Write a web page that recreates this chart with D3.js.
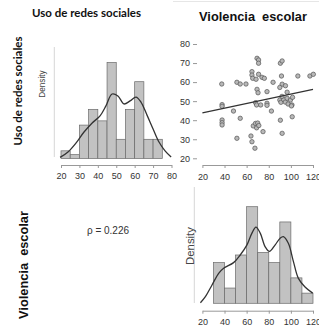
<!DOCTYPE html>
<html>
<head>
<meta charset="utf-8">
<script src="https://cdn.jsdelivr.net/npm/d3@7"></script>
<style>
    body { margin: 0; background: #fff; }
    text { font-family: 'Liberation Sans', Arial, sans-serif; }
</style>
</head>
<body>
<svg id="chart" width="319" height="329"></svg>
<script>
'use strict';

// Uso de redes sociales: histogram (bin start, bin width 5) and density curve
var socialBinStart = [20, 25, 30, 35, 40, 45, 50, 55, 60, 65, 70];
var socialCounts = [2, 1, 8.7, 12.8, 9.8, 25, 5, 12.8, 20, 5, 5];
var socialKdeX = [19.5, 23.8, 28.1, 32.5, 36.8, 41.2, 44.4, 47.7, 50.9, 54.2, 57.5, 60.7, 63.4, 66.7, 70.0, 73.2, 76.5, 79.8];
var socialKdeY = [0.3, 1.7, 4.0, 6.9, 9.2, 11.1, 13.7, 16.8, 16.3, 14.2, 15.0, 16.0, 14.7, 11.3, 7.7, 4.3, 2.0, 0.4];

// Violencia escolar: histogram (bin start, bin width 10) and density curve
var violBinStart = [30, 40, 50, 60, 70, 80, 90, 100, 110];
var violCounts = [8, 3, 9.5, 19, 10, 8, 16, 5, 2];
var violKdeX = [18.2, 22.7, 28.7, 34.7, 39.2, 48.2, 54.2, 60.3, 64.8, 68.4, 72.3, 76.8, 80.6, 85.8, 90.3, 93.2, 97.7, 102.3, 106.8, 112.8, 119.7];
var violKdeY = [0.1, 1.3, 3.6, 5.9, 6.9, 8.0, 9.5, 11.5, 13.8, 15.0, 13.8, 11.1, 10.2, 11.5, 12.8, 13.1, 11.8, 8.2, 4.9, 3.2, 2.0];

// scatter: violencia (x) vs uso de redes (y)
var violencia = [69.4, 70.8, 70.8, 90.5, 92.1, 64.8, 64.8, 65.5, 70.8, 73.9, 76, 68.5,
    37.5, 51.2, 54.2, 59.4, 83.9, 91.5, 106.3, 117.2, 120.3,
    92.1, 95.1, 90, 96.6, 69.4, 70.3, 78.4,
    37.8, 37.8, 48.1, 68.1, 69, 72.7, 78.4, 78.4, 82.4,
    90, 91, 93.5, 95, 96.6, 97.5, 99.6, 101, 101.5, 100.5, 92,
    101.2, 37.8, 37.8, 37.8, 54.2,
    66, 68, 70, 69, 71,
    90.5, 74.8, 92.1, 51.2, 63.9, 64.8, 67.5];
var redes = [72.5, 71.6, 69.9, 69.9, 71.1, 65.5, 63.7, 62, 64.1, 62.5, 62, 61.5,
    59, 59.9, 59, 59, 59.9, 63.2, 63.2, 63.2, 64.1,
    58.9, 58.1, 57.2, 54.7, 56.2, 54.4, 55,
    48.2, 47.3, 44.8, 49.2, 48, 48, 48.9, 47.8, 44.8,
    50.6, 49.4, 50.8, 49.5, 51.5, 48.5, 50.6, 48, 52, 47.5, 52.5,
    41.8, 40.1, 38.7, 37.5, 41,
    37, 38.3, 38.5, 36, 37.2,
    40, 34, 33.1, 30.5, 31.7, 28.7, 25.3];
var fitX = [20, 120];
var fitY = [43.9, 56.2];

var socialTicks = [20, 30, 40, 50, 60, 70, 80];
var violTicks = [20, 40, 60, 80, 100, 120];
var redesTicks = [20, 30, 40, 50, 60, 70, 80];
var rhoLabel = '\u03c1 = 0.226';

var barFill = '#c2c2c2';
var barStroke = '#6a6a6a';
var lineColor = '#333333';
var axisColor = '#999999';
var labelColor = '#333333';

var svg = d3.select('#chart');

svg.append('rect')
    .attr('width', 319)
    .attr('height', 329)
    .attr('fill', '#ffffff');

// faint frame line at the top right
svg.append('line')
    .attr('x1', 173).attr('x2', 319)
    .attr('y1', 1.5).attr('y2', 1.5)
    .attr('stroke', '#e6e6e6')
    .attr('stroke-width', 1);

function drawHist(g, binStart, binWidth, counts, x, y) {
    g.append('g')
        .selectAll('rect')
        .data(counts)
        .enter()
        .append('rect')
        .attr('x', function (d, i) { return x(binStart[i]); })
        .attr('y', function (d) { return y(d); })
        .attr('width', function (d, i) { return x(binStart[i] + binWidth) - x(binStart[i]); })
        .attr('height', function (d) { return y(0) - y(d); })
        .attr('fill', barFill)
        .attr('stroke', barStroke)
        .attr('stroke-width', 0.7);
}

function drawCurve(g, xs, ys, x, y) {
    var line = d3.line()
        .x(function (d) { return x(d[0]); })
        .y(function (d) { return y(d[1]); })
        .curve(d3.curveCatmullRom.alpha(0.5));
    g.append('path')
        .datum(d3.zip(xs, ys))
        .attr('d', line)
        .attr('fill', 'none')
        .attr('stroke', lineColor)
        .attr('stroke-width', 1.3);
}

function drawBottomAxis(g, scale, ticks, yPos, padding) {
    var ax = g.append('g')
        .attr('transform', 'translate(0,' + yPos + ')')
        .call(d3.axisBottom(scale)
            .tickValues(ticks)
            .tickSize(3)
            .tickSizeOuter(0)
            .tickPadding(padding)
            .tickFormat(d3.format('d')));
    ax.select('.domain').attr('stroke', axisColor);
    ax.selectAll('.tick line').attr('stroke', axisColor);
    ax.selectAll('.tick text')
        .attr('fill', labelColor)
        .style('font-size', '9px')
        .style('font-family', "'Liberation Sans', Arial, sans-serif");
    return ax;
}

// --- top left: histogram of uso de redes sociales
var xSocial = d3.scaleLinear().domain([20, 80]).range([61, 171.5]);
var ySocial = d3.scaleLinear().domain([0, 25]).range([158.5, 62.5]);
var gSocial = svg.append('g');

gSocial.append('line')
    .attr('x1', 54.3).attr('x2', 54.3)
    .attr('y1', 47).attr('y2', 157)
    .attr('stroke', '#d6d6d6')
    .attr('stroke-width', 1);

drawHist(gSocial, socialBinStart, 5, socialCounts, xSocial, ySocial);
drawCurve(gSocial, socialKdeX, socialKdeY, xSocial, ySocial);
drawBottomAxis(gSocial, xSocial, socialTicks, 165, 5);

gSocial.append('text')
    .attr('transform', 'translate(44.5,84) rotate(-90)')
    .attr('text-anchor', 'middle')
    .attr('fill', '#444')
    .style('font-size', '8.2px')
    .text('Density');

// --- top right: scatter
var xViol = d3.scaleLinear().domain([20, 120]).range([202.4, 313]);
var yRedes = d3.scaleLinear().domain([20, 80]).range([158.3, 44]);
var gScatter = svg.append('g');

drawBottomAxis(gScatter, xViol, violTicks, 165, 5.6);

var yAx = gScatter.append('g')
    .attr('transform', 'translate(197,0)')
    .call(d3.axisLeft(yRedes)
        .tickValues(redesTicks)
        .tickSize(4)
        .tickSizeOuter(0)
        .tickPadding(3)
        .tickFormat(d3.format('d')));
yAx.select('.domain').remove();
yAx.selectAll('.tick line').attr('stroke', axisColor);
yAx.selectAll('.tick text')
    .attr('fill', labelColor)
    .style('font-size', '9px')
    .style('font-family', "'Liberation Sans', Arial, sans-serif");

gScatter.append('g')
    .selectAll('circle')
    .data(d3.zip(violencia, redes))
    .enter()
    .append('circle')
    .attr('cx', function (d) { return xViol(d[0]); })
    .attr('cy', function (d) { return yRedes(d[1]); })
    .attr('r', 2.2)
    .attr('fill', '#b8b8b8')
    .attr('stroke', '#555')
    .attr('stroke-width', 0.7);

gScatter.append('line')
    .attr('x1', xViol(fitX[0])).attr('y1', yRedes(fitY[0]))
    .attr('x2', xViol(fitX[1])).attr('y2', yRedes(fitY[1]))
    .attr('stroke', lineColor)
    .attr('stroke-width', 1.3);

// --- bottom right: histogram of violencia escolar
var yViolDens = d3.scaleLinear().domain([0, 19]).range([303.3, 206.7]);
var gViol = svg.append('g');

gViol.append('line')
    .attr('x1', 194.3).attr('x2', 194.3)
    .attr('y1', 187).attr('y2', 303)
    .attr('stroke', '#d6d6d6')
    .attr('stroke-width', 1);

drawHist(gViol, violBinStart, 10, violCounts, xViol, yViolDens);
drawCurve(gViol, violKdeX, violKdeY, xViol, yViolDens);
drawBottomAxis(gViol, xViol, violTicks, 310.7, 5);

gViol.append('text')
    .attr('transform', 'translate(193.5,246) rotate(-90)')
    .attr('text-anchor', 'middle')
    .attr('fill', '#444')
    .attr('textLength', 38)
    .attr('lengthAdjust', 'spacingAndGlyphs')
    .style('font-size', '10px')
    .text('Density');

// --- bottom left: correlation
svg.append('text')
    .attr('x', 108)
    .attr('y', 233.5)
    .attr('text-anchor', 'middle')
    .attr('fill', '#333')
    .style('font-size', '10px')
    .text(rhoLabel);

// --- titles
svg.append('text')
    .attr('x', 86.5)
    .attr('y', 17)
    .attr('text-anchor', 'middle')
    .attr('fill', '#111')
    .style('font-family', 'Lato, sans-serif')
    .style('font-weight', 'bold')
    .style('font-size', '11.5px')
    .text('Uso de redes sociales');

svg.append('text')
    .attr('x', 253)
    .attr('y', 21)
    .attr('text-anchor', 'middle')
    .attr('fill', '#111')
    .style('font-weight', 'bold')
    .style('font-size', '12.8px')
    .style('white-space', 'pre')
    .text('Violencia\u00a0 escolar');

svg.append('text')
    .attr('transform', 'translate(21.8,91) rotate(-90)')
    .attr('text-anchor', 'middle')
    .attr('fill', '#111')
    .style('font-family', 'Lato, sans-serif')
    .style('font-weight', 'bold')
    .style('font-size', '11.5px')
    .text('Uso de redes sociales');

svg.append('text')
    .attr('transform', 'translate(27.6,265) rotate(-90)')
    .attr('text-anchor', 'middle')
    .attr('fill', '#111')
    .style('font-weight', 'bold')
    .style('font-size', '12.8px')
    .text('Violencia\u00a0 escolar');
</script>
</body>
</html>
